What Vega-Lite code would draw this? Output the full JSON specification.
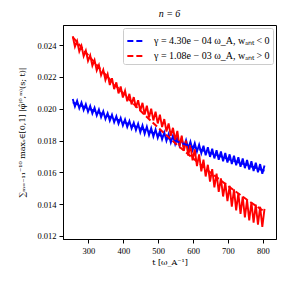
{
 "$schema": "https://vega.github.io/schema/vega-lite/v6.json",
 "width": 213, "height": 214,
 "autosize": {"type": "none"},
 "padding": {"left": 63, "top": 25, "right": 11, "bottom": 46},
 "background": "white",
 "title": {"text": "n = 6", "fontSize": 10, "font": "Liberation Serif", "fontWeight": "normal", "fontStyle": "italic", "offset": 6, "color": "black"},
 "config": {
  "view": {"stroke": "black", "strokeWidth": 1},
  "axis": {"labelFont": "Liberation Serif", "labelFontSize": 8.5, "labelColor": "black", "tickColor": "black", "tickSize": 4, "domainColor": "black", "titleFont": "DejaVu Serif", "titleFontSize": 8, "titleFontWeight": "normal", "titleColor": "black", "grid": false, "labelPadding": 3}
 },
 "datasets": {
  "blue": [
   {"t":255,"v":0.020610},{"t":261.25,"v":0.020135},{"t":267.5,"v":0.020500},{"t":273.75,"v":0.020025},{"t":280,"v":0.020390},{"t":286.25,"v":0.019915},{"t":292.5,"v":0.020280},{"t":298.75,"v":0.019805},
   {"t":305,"v":0.020170},{"t":311.25,"v":0.019694},{"t":317.5,"v":0.020058},{"t":323.75,"v":0.019581},{"t":330,"v":0.019945},{"t":336.25,"v":0.019469},{"t":342.5,"v":0.019833},{"t":348.75,"v":0.019356},
   {"t":355,"v":0.019720},{"t":361.25,"v":0.019250},{"t":367.5,"v":0.019620},{"t":373.75,"v":0.019150},{"t":380,"v":0.019520},{"t":386.25,"v":0.019050},{"t":392.5,"v":0.019420},{"t":398.75,"v":0.018950},
   {"t":405,"v":0.019320},{"t":411.25,"v":0.018850},{"t":417.5,"v":0.019220},{"t":423.75,"v":0.018750},{"t":430,"v":0.019120},{"t":436.25,"v":0.018650},{"t":442.5,"v":0.019050},{"t":448.75,"v":0.018520},
   {"t":455,"v":0.018950},{"t":461.25,"v":0.018426},{"t":467.5,"v":0.018863},{"t":473.75,"v":0.018339},{"t":480,"v":0.018775},{"t":486.25,"v":0.018251},{"t":492.5,"v":0.018688},{"t":498.75,"v":0.018164},
   {"t":505,"v":0.018600},{"t":511.25,"v":0.018071},{"t":517.5,"v":0.018503},{"t":523.75,"v":0.017974},{"t":530,"v":0.018405},{"t":536.25,"v":0.017876},{"t":542.5,"v":0.018308},{"t":548.75,"v":0.017779},
   {"t":555,"v":0.018210},{"t":561.25,"v":0.017683},{"t":567.5,"v":0.018115},{"t":573.75,"v":0.017588},{"t":580,"v":0.018020},{"t":586.25,"v":0.017493},{"t":592.5,"v":0.017925},{"t":598.75,"v":0.017398},
   {"t":605,"v":0.017830},{"t":611.25,"v":0.017301},{"t":617.5,"v":0.017733},{"t":623.75,"v":0.017204},{"t":630,"v":0.017675},{"t":636.25,"v":0.017066},{"t":642.5,"v":0.017578},{"t":648.75,"v":0.016969},
   {"t":655,"v":0.017480},{"t":661.25,"v":0.016876},{"t":667.5,"v":0.017393},{"t":673.75,"v":0.016789},{"t":680,"v":0.017305},{"t":686.25,"v":0.016701},{"t":692.5,"v":0.017218},{"t":698.75,"v":0.016614},
   {"t":705,"v":0.017130},{"t":711.25,"v":0.016526},{"t":717.5,"v":0.017043},{"t":723.75,"v":0.016439},{"t":730,"v":0.016955},{"t":736.25,"v":0.016351},{"t":742.5,"v":0.016868},{"t":748.75,"v":0.016264},
   {"t":755,"v":0.016780},{"t":761.25,"v":0.016176},{"t":767.5,"v":0.016693},{"t":773.75,"v":0.016089},{"t":780,"v":0.016605},{"t":786.25,"v":0.016001},{"t":792.5,"v":0.016518},{"t":798.75,"v":0.015914},
   {"t":805,"v":0.016430}
  ],
  "red": [
   {"t":255,"v":0.024550},{"t":261.25,"v":0.023900},{"t":267.5,"v":0.024250},{"t":273.75,"v":0.023600},{"t":280,"v":0.023950},{"t":286.25,"v":0.023300},{"t":292.5,"v":0.023650},{"t":298.75,"v":0.023000},
   {"t":305,"v":0.023350},{"t":311.25,"v":0.022700},{"t":317.5,"v":0.023050},{"t":323.75,"v":0.022400},{"t":330,"v":0.022750},{"t":336.25,"v":0.022100},{"t":342.5,"v":0.022450},{"t":348.75,"v":0.021800},
   {"t":355,"v":0.022180},{"t":361.25,"v":0.021489},{"t":367.5,"v":0.021918},{"t":373.75,"v":0.021226},{"t":380,"v":0.021655},{"t":386.25,"v":0.020964},{"t":392.5,"v":0.021393},{"t":398.75,"v":0.020701},
   {"t":405,"v":0.021130},{"t":411.25,"v":0.020470},{"t":417.5,"v":0.020930},{"t":423.75,"v":0.020270},{"t":430,"v":0.020730},{"t":436.25,"v":0.020070},{"t":442.5,"v":0.020530},{"t":448.75,"v":0.019870},
   {"t":455,"v":0.020370},{"t":461.25,"v":0.019636},{"t":467.5,"v":0.020183},{"t":473.75,"v":0.019449},{"t":480,"v":0.019995},{"t":486.25,"v":0.019261},{"t":492.5,"v":0.019808},{"t":498.75,"v":0.019074},
   {"t":505,"v":0.019620},{"t":511.25,"v":0.018843},{"t":517.5,"v":0.019345},{"t":523.75,"v":0.018568},{"t":530,"v":0.019070},{"t":536.25,"v":0.018293},{"t":542.5,"v":0.018795},{"t":548.75,"v":0.018018},
   {"t":555,"v":0.018600},{"t":561.25,"v":0.017650},{"t":567.5,"v":0.018300},{"t":573.75,"v":0.017350},{"t":580,"v":0.018000},{"t":586.25,"v":0.017050},{"t":592.5,"v":0.017700},{"t":598.75,"v":0.016750},
   {"t":605,"v":0.017450},{"t":611.25,"v":0.016388},{"t":617.5,"v":0.017125},{"t":623.75,"v":0.016063},{"t":630,"v":0.016800},{"t":636.25,"v":0.015738},{"t":642.5,"v":0.016475},{"t":648.75,"v":0.015413},
   {"t":655,"v":0.016200},{"t":661.25,"v":0.015056},{"t":667.5,"v":0.015913},{"t":673.75,"v":0.014769},{"t":680,"v":0.015625},{"t":686.25,"v":0.014481},{"t":692.5,"v":0.015338},{"t":698.75,"v":0.014194},
   {"t":705,"v":0.015150},{"t":711.25,"v":0.013838},{"t":717.5,"v":0.014925},{"t":723.75,"v":0.013613},{"t":730,"v":0.014700},{"t":736.25,"v":0.013388},{"t":742.5,"v":0.014475},{"t":748.75,"v":0.013163},
   {"t":755,"v":0.014250},{"t":761.25,"v":0.012981},{"t":767.5,"v":0.014113},{"t":773.75,"v":0.012844},{"t":780,"v":0.013975},{"t":786.25,"v":0.012706},{"t":792.5,"v":0.013838},{"t":798.75,"v":0.012569},
   {"t":805,"v":0.013700}
  ],
  "fit": [
   {"t":255,"v":0.020400,"s":"γ = 4.30e − 04 ω_A, wₐₙₜ < 0"},{"t":305,"v":0.019966,"s":"γ = 4.30e − 04 ω_A, wₐₙₜ < 0"},{"t":355,"v":0.019541,"s":"γ = 4.30e − 04 ω_A, wₐₙₜ < 0"},{"t":405,"v":0.019126,"s":"γ = 4.30e − 04 ω_A, wₐₙₜ < 0"},{"t":455,"v":0.018719,"s":"γ = 4.30e − 04 ω_A, wₐₙₜ < 0"},{"t":505,"v":0.018321,"s":"γ = 4.30e − 04 ω_A, wₐₙₜ < 0"},{"t":555,"v":0.017931,"s":"γ = 4.30e − 04 ω_A, wₐₙₜ < 0"},{"t":605,"v":0.017550,"s":"γ = 4.30e − 04 ω_A, wₐₙₜ < 0"},{"t":655,"v":0.017177,"s":"γ = 4.30e − 04 ω_A, wₐₙₜ < 0"},{"t":705,"v":0.016811,"s":"γ = 4.30e − 04 ω_A, wₐₙₜ < 0"},{"t":755,"v":0.016454,"s":"γ = 4.30e − 04 ω_A, wₐₙₜ < 0"},{"t":805,"v":0.016104,"s":"γ = 4.30e − 04 ω_A, wₐₙₜ < 0"},
   {"t":255,"v":0.024500,"s":"γ = 1.08e − 03 ω_A, wₐₙₜ > 0"},{"t":305,"v":0.023212,"s":"γ = 1.08e − 03 ω_A, wₐₙₜ > 0"},{"t":355,"v":0.021992,"s":"γ = 1.08e − 03 ω_A, wₐₙₜ > 0"},{"t":405,"v":0.020836,"s":"γ = 1.08e − 03 ω_A, wₐₙₜ > 0"},{"t":455,"v":0.019740,"s":"γ = 1.08e − 03 ω_A, wₐₙₜ > 0"},{"t":505,"v":0.018702,"s":"γ = 1.08e − 03 ω_A, wₐₙₜ > 0"},{"t":555,"v":0.017719,"s":"γ = 1.08e − 03 ω_A, wₐₙₜ > 0"},{"t":605,"v":0.016787,"s":"γ = 1.08e − 03 ω_A, wₐₙₜ > 0"},{"t":655,"v":0.015905,"s":"γ = 1.08e − 03 ω_A, wₐₙₜ > 0"},{"t":705,"v":0.015068,"s":"γ = 1.08e − 03 ω_A, wₐₙₜ > 0"},{"t":755,"v":0.014276,"s":"γ = 1.08e − 03 ω_A, wₐₙₜ > 0"},{"t":805,"v":0.013526,"s":"γ = 1.08e − 03 ω_A, wₐₙₜ > 0"}
  ]
 },
 "encoding": {
  "x": {"field": "t", "type": "quantitative", "scale": {"domain": [227, 838], "nice": false, "zero": false},
        "axis": {"values": [300, 400, 500, 600, 700, 800], "title": "t  [ω_A⁻¹]", "titlePadding": 4}},
  "y": {"field": "v", "type": "quantitative", "scale": {"domain": [0.01181, 0.02526], "nice": false, "zero": false},
        "axis": {"values": [0.012, 0.014, 0.016, 0.018, 0.02, 0.022, 0.024], "format": ".3f", "title": "∑ₘ₌₋₁₁⁻¹⁰ maxₛ∈[0,1] |φ̂⁽⁶,ᵐ⁾(s; t)|", "titlePadding": 10}}
 },
 "layer": [
  {"data": {"name": "blue"}, "mark": {"type": "line", "color": "#0000ff", "strokeWidth": 1.9}},
  {"data": {"name": "red"}, "mark": {"type": "line", "color": "#ff0000", "strokeWidth": 1.9}},
  {"data": {"name": "fit"}, "mark": {"type": "line", "strokeWidth": 2, "strokeDash": [6, 3]},
   "encoding": {"color": {"field": "s", "type": "nominal",
     "scale": {"domain": ["γ = 4.30e − 04 ω_A, wₐₙₜ < 0", "γ = 1.08e − 03 ω_A, wₐₙₜ > 0"], "range": ["#0000ff", "#ff0000"]},
     "legend": {"title": null, "orient": "top-right", "offset": 3, "symbolType": "stroke", "symbolDash": [6, 3], "symbolStrokeWidth": 2.2, "symbolSize": 300, "labelFont": "Liberation Serif", "labelFontSize": 10, "labelColor": "black", "labelLimit": 300, "labelOffset": 8, "fillColor": "white", "strokeColor": "#cccccc", "cornerRadius": 2, "padding": 3, "rowPadding": 0}}}}
 ]
}
